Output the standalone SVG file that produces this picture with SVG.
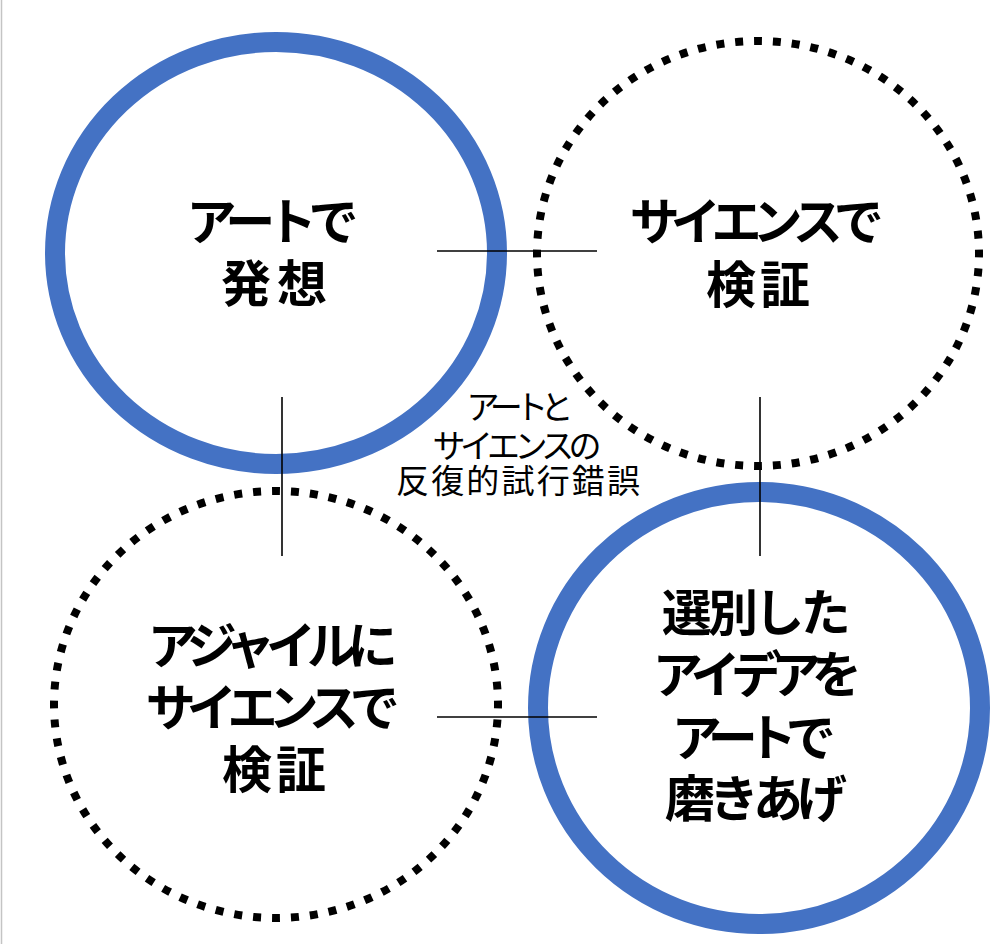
<svg xmlns="http://www.w3.org/2000/svg" width="1008" height="944" viewBox="0 0 1008 944">
  <style>
    .solid { fill: none; stroke: #4472C4; stroke-width: 20; }
    .dotted { fill: none; stroke: #000000; stroke-width: 8; stroke-dasharray: 4.2 5.8; stroke-dashoffset: 2.1; }
    .conn { stroke: #000000; stroke-width: 1.6; fill: none; }
    .big { font-family: "Noto Sans CJK JP", "Noto Sans", sans-serif; font-size: 50px; font-weight: bold; fill: #000000; text-anchor: middle; }
    .small { font-family: "Noto Sans CJK JP", "Noto Sans", sans-serif; font-size: 33px; font-weight: normal; fill: #000000; text-anchor: middle; }
  </style>
  <rect x="0" y="0" width="1008" height="944" fill="#ffffff"/>
  <line x1="1.5" y1="0" x2="1.5" y2="944" stroke="#c4c4c4" stroke-width="1.5"/>

  <g id="node-art-idea">
    <ellipse class="solid" cx="276" cy="253" rx="221" ry="211"/>
    <text class="big">
      <tspan x="274" y="240" textLength="172" lengthAdjust="spacing">アートで</tspan>
      <tspan x="274" y="302" textLength="106" lengthAdjust="spacing">発想</tspan>
    </text>
  </g>

  <g id="node-science-verify">
    <ellipse class="dotted" cx="758" cy="253.5" rx="221" ry="212.5" pathLength="720"/>
    <text class="big">
      <tspan x="758" y="240" textLength="254" lengthAdjust="spacing">サイエンスで</tspan>
      <tspan x="758" y="303" textLength="104" lengthAdjust="spacing">検証</tspan>
    </text>
  </g>

  <g id="node-agile-verify">
    <ellipse class="dotted" cx="276" cy="704.5" rx="222" ry="213.5" pathLength="720"/>
    <text class="big">
      <tspan x="274" y="664" textLength="250" lengthAdjust="spacing">アジャイルに</tspan>
      <tspan x="274" y="726" textLength="254" lengthAdjust="spacing">サイエンスで</tspan>
      <tspan x="274" y="788" textLength="104" lengthAdjust="spacing">検証</tspan>
    </text>
  </g>

  <g id="node-art-polish">
    <ellipse class="solid" cx="759" cy="708" rx="221" ry="216"/>
    <text class="big">
      <tspan x="760" y="631" textLength="189" lengthAdjust="spacing">選別した</tspan>
      <tspan x="758" y="693" textLength="209" lengthAdjust="spacing">アイデアを</tspan>
      <tspan x="754" y="756" textLength="164" lengthAdjust="spacing">アートで</tspan>
      <tspan x="756" y="817" textLength="182" lengthAdjust="spacing">磨きあげ</tspan>
    </text>
  </g>

  <g id="center-label">
    <text class="small">
      <tspan x="520" y="419" textLength="107" lengthAdjust="spacing">アートと</tspan>
      <tspan x="518" y="458" textLength="169" lengthAdjust="spacing">サイエンスの</tspan>
      <tspan x="518" y="493" textLength="244" lengthAdjust="spacing">反復的試行錯誤</tspan>
    </text>
  </g>

  <g id="connectors">
    <line class="conn" x1="437" y1="251" x2="597" y2="251"/>
    <line class="conn" x1="282" y1="397" x2="282" y2="556"/>
    <line class="conn" x1="760" y1="397" x2="760" y2="556"/>
    <line class="conn" x1="437" y1="717" x2="597" y2="717"/>
  </g>
</svg>
